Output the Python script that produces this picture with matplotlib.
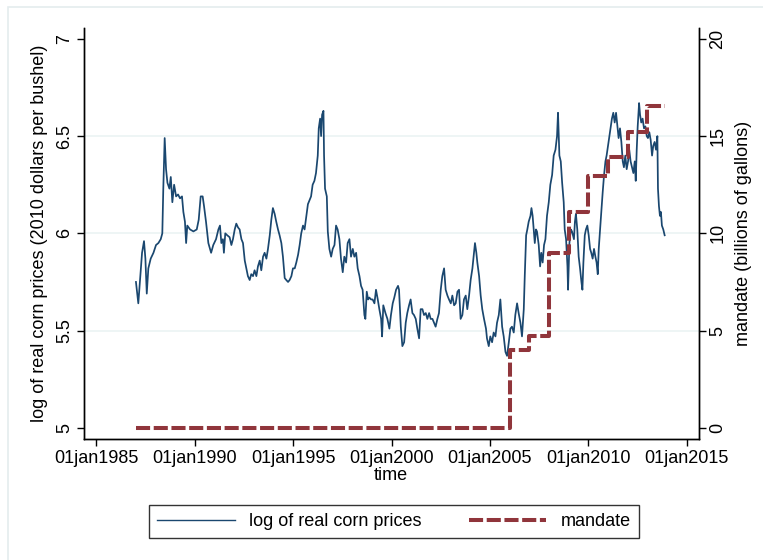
import numpy as np
import matplotlib
matplotlib.use("Agg")
import matplotlib.pyplot as plt
from matplotlib.patches import Rectangle
from matplotlib.lines import Line2D

plt.rcParams['font.family'] = ['Liberation Sans Narrow', 'Liberation Sans', 'DejaVu Sans']

# log of real corn prices (decimal year, value)
corn_t = [
    1987.01, 1987.13, 1987.22, 1987.32, 1987.42, 1987.49, 1987.56, 1987.64, 1987.76, 1987.90,
    1988.03, 1988.15, 1988.27, 1988.35, 1988.40, 1988.47, 1988.54, 1988.61, 1988.71, 1988.78,
    1988.86, 1988.95, 1989.05, 1989.15, 1989.25, 1989.35, 1989.42, 1989.50, 1989.56, 1989.62,
    1989.76, 1989.93, 1990.10, 1990.20, 1990.30, 1990.40, 1990.47, 1990.57, 1990.69, 1990.83,
    1990.94, 1991.08, 1991.20, 1991.28, 1991.35, 1991.43, 1991.48, 1991.55, 1991.65, 1991.77,
    1991.86, 1991.94, 1992.03, 1992.11, 1992.20, 1992.28, 1992.37, 1992.45, 1992.54, 1992.62,
    1992.70, 1992.79, 1992.87, 1992.96, 1993.04, 1993.13, 1993.21, 1993.30, 1993.38, 1993.47,
    1993.55, 1993.64, 1993.72, 1993.81, 1993.89, 1993.97, 1994.06, 1994.14, 1994.23, 1994.31,
    1994.40, 1994.48, 1994.57, 1994.65, 1994.74, 1994.82, 1994.91, 1994.99, 1995.08, 1995.16,
    1995.25, 1995.33, 1995.41, 1995.50, 1995.58, 1995.67, 1995.75, 1995.91, 1995.99, 1996.08,
    1996.16, 1996.25, 1996.30, 1996.37, 1996.42, 1996.47, 1996.54, 1996.57, 1996.62, 1996.71,
    1996.76, 1996.84, 1996.93, 1997.01, 1997.10, 1997.18, 1997.26, 1997.35, 1997.43, 1997.52,
    1997.60, 1997.69, 1997.77, 1997.86, 1997.94, 1998.03, 1998.11, 1998.20, 1998.28, 1998.37,
    1998.45, 1998.53, 1998.62, 1998.67, 1998.74, 1998.81, 1998.87, 1998.96, 1999.04, 1999.13,
    1999.21, 1999.30, 1999.38, 1999.47, 1999.52, 1999.58, 1999.69, 1999.79, 1999.89, 1999.97,
    2000.06, 2000.14, 2000.23, 2000.33, 2000.38, 2000.47, 2000.55, 2000.64, 2000.72, 2000.80,
    2000.89, 2000.97, 2001.06, 2001.14, 2001.23, 2001.31, 2001.40, 2001.48, 2001.57, 2001.65,
    2001.74, 2001.82, 2001.91, 2001.99, 2002.08, 2002.16, 2002.24, 2002.33, 2002.41, 2002.50,
    2002.58, 2002.67, 2002.75, 2002.84, 2002.92, 2003.01, 2003.09, 2003.18, 2003.26, 2003.35,
    2003.43, 2003.51, 2003.60, 2003.68, 2003.77, 2003.85, 2003.94, 2004.02, 2004.11, 2004.19,
    2004.24, 2004.31, 2004.36, 2004.45, 2004.53, 2004.61, 2004.70, 2004.80, 2004.85, 2004.94,
    2005.02, 2005.11, 2005.19, 2005.28, 2005.36, 2005.45, 2005.53, 2005.62, 2005.70, 2005.79,
    2005.87, 2005.96, 2006.04, 2006.12, 2006.21, 2006.29, 2006.38, 2006.46, 2006.55, 2006.63,
    2006.72, 2006.77, 2006.84, 2006.90, 2006.97, 2007.06, 2007.11, 2007.17, 2007.23, 2007.28,
    2007.34, 2007.39, 2007.48, 2007.55, 2007.61, 2007.68, 2007.75, 2007.82, 2007.90, 2007.99,
    2008.07, 2008.16, 2008.24, 2008.33, 2008.41, 2008.46, 2008.53, 2008.60, 2008.67, 2008.75,
    2008.80, 2008.87, 2008.94, 2008.97, 2009.04, 2009.11, 2009.17, 2009.27, 2009.32, 2009.37,
    2009.44, 2009.51, 2009.58, 2009.65, 2009.70, 2009.75, 2009.82, 2009.88, 2009.95, 2010.02,
    2010.09, 2010.15, 2010.22, 2010.29, 2010.36, 2010.42, 2010.48, 2010.53, 2010.59, 2010.66,
    2010.73, 2010.80, 2010.87, 2010.93, 2011.00, 2011.07, 2011.14, 2011.20, 2011.27, 2011.34,
    2011.41, 2011.48, 2011.54, 2011.61, 2011.68, 2011.75, 2011.81, 2011.88, 2011.95, 2012.02,
    2012.08, 2012.15, 2012.22, 2012.29, 2012.36, 2012.41, 2012.46, 2012.51, 2012.58, 2012.63,
    2012.69, 2012.76, 2012.83, 2012.90, 2012.97, 2013.03, 2013.10, 2013.17, 2013.24, 2013.30,
    2013.37, 2013.44, 2013.51, 2013.54, 2013.59, 2013.64, 2013.69, 2013.74, 2013.81, 2013.88,
]
corn_v = [
    5.75, 5.64, 5.76, 5.90, 5.96, 5.87, 5.69, 5.82, 5.87, 5.90,
    5.94, 5.95, 5.97, 6.00, 6.23, 6.49, 6.33, 6.26, 6.23, 6.29,
    6.16, 6.25, 6.19, 6.20, 6.18, 6.19, 6.11, 6.06, 5.95, 6.04,
    6.02, 6.01, 6.02, 6.07, 6.19, 6.19, 6.14, 6.06, 5.95, 5.90,
    5.94, 5.97, 6.02, 6.04, 5.95, 5.97, 5.90, 6.00, 5.99, 5.98,
    5.94, 5.97, 6.02, 6.05, 6.03, 6.02, 5.97, 5.95, 5.86, 5.82,
    5.78, 5.76, 5.79, 5.78, 5.81, 5.78, 5.83, 5.86, 5.81, 5.88,
    5.90, 5.87, 5.92, 5.99, 6.07, 6.13, 6.10, 6.06, 6.02, 5.99,
    5.95, 5.88, 5.77, 5.76, 5.75, 5.76, 5.78, 5.82, 5.82, 5.85,
    5.89, 5.94, 6.00, 6.04, 6.02, 6.09, 6.15, 6.19, 6.25, 6.27,
    6.31, 6.40, 6.54, 6.59, 6.50, 6.61, 6.63, 6.40, 6.23, 6.19,
    6.01, 5.92, 5.88, 5.92, 5.94, 6.04, 6.02, 5.97, 5.87, 5.80,
    5.88, 5.85, 5.95, 5.97, 5.88, 5.92, 5.88, 5.90, 5.82, 5.78,
    5.73, 5.71, 5.58, 5.56, 5.70, 5.66, 5.67, 5.66, 5.66, 5.64,
    5.71, 5.66, 5.61, 5.56, 5.47, 5.63, 5.59, 5.56, 5.51, 5.58,
    5.64, 5.67, 5.71, 5.73, 5.71, 5.52, 5.42, 5.44, 5.54, 5.59,
    5.63, 5.66, 5.59, 5.58, 5.56, 5.51, 5.46, 5.61, 5.61, 5.58,
    5.59, 5.56, 5.59, 5.56, 5.56, 5.54, 5.52, 5.56, 5.59, 5.71,
    5.78, 5.82, 5.71, 5.68, 5.66, 5.64, 5.68, 5.63, 5.64, 5.70,
    5.71, 5.56, 5.58, 5.66, 5.68, 5.61, 5.68, 5.76, 5.82, 5.90,
    5.95, 5.90, 5.85, 5.78, 5.68, 5.61, 5.56, 5.51, 5.46, 5.42,
    5.47, 5.44, 5.49, 5.47, 5.54, 5.58, 5.66, 5.52, 5.47, 5.39,
    5.37, 5.44, 5.51, 5.52, 5.49, 5.58, 5.64, 5.59, 5.54, 5.47,
    5.61, 5.78, 5.99, 6.02, 6.06, 6.09, 6.13, 6.09, 6.01, 5.95,
    6.02, 6.01, 5.94, 5.83, 5.90, 5.85, 5.94, 5.97, 6.09, 6.16,
    6.25, 6.30, 6.40, 6.43, 6.50, 6.62, 6.40, 6.37, 6.26, 6.16,
    6.02, 5.97, 5.83, 5.71, 5.95, 6.02, 6.01, 5.97, 6.06, 6.10,
    6.02, 5.88, 5.82, 5.75, 5.71, 5.85, 5.99, 6.02, 6.04, 5.99,
    5.92, 5.90, 5.87, 5.92, 5.88, 5.85, 5.79, 5.92, 6.01, 6.11,
    6.21, 6.30, 6.37, 6.40, 6.45, 6.50, 6.55, 6.59, 6.62, 6.57,
    6.62, 6.55, 6.49, 6.54, 6.47, 6.37, 6.34, 6.40, 6.33, 6.37,
    6.43, 6.37, 6.34, 6.31, 6.37, 6.27, 6.43, 6.55, 6.67, 6.61,
    6.57, 6.59, 6.54, 6.55, 6.50, 6.49, 6.52, 6.48, 6.40, 6.45,
    6.47, 6.43, 6.50, 6.23, 6.14, 6.09, 6.11, 6.04, 6.02, 5.99,
]

# biofuel mandate, billions of gallons (step starting each year)
mandate_years = [1987, 2006, 2007, 2008, 2009, 2010, 2011, 2012, 2013]
mandate_vals = [0, 4.0, 4.7, 9.0, 11.1, 12.95, 13.95, 15.2, 16.55]

xticks = [1985, 1990, 1995, 2000, 2005, 2010, 2015]
xtick_labels = ['01jan' + str(y) for y in xticks]

navy = '#1a476f'
maroon = '#90353b'
grid_col = '#eaf2f3'

fig = plt.figure(figsize=(7.63, 5.6), dpi=100)
fig.patch.set_facecolor('white')
fig.patches.append(Rectangle((8 / 763, -0.1), 1.2, 1.1 - 7 / 560, transform=fig.transFigure,
                             fill=False, edgecolor='#e4ecee', lw=1.2, zorder=0))

ax = fig.add_axes([84 / 763, 1 - 438.5 / 560, 614.5 / 763, 410.5 / 560])
ax2 = ax.twinx()

ax.set_xlim(1984.37, 2015.6)
ax.set_ylim(4.945, 7.056)
# right axis: 0..20 sits on the same gridlines as 5..7
ax2.set_ylim(-0.55, 20.56)

for v in [5.5, 6, 6.5]:
    ax.axhline(v, color=grid_col, lw=1.1, zorder=0)

ax.plot(corn_t, corn_v, color=navy, lw=1.25, zorder=3)

mx = mandate_years + [corn_t[-1]]
my = mandate_vals + [mandate_vals[-1]]
ax2.plot(mx, my, color=maroon, lw=2.9, drawstyle='steps-post',
         dashes=(3.5, 0.9), solid_capstyle='butt', dash_capstyle='butt', zorder=4)

ax.set_xticks(xticks)
ax.set_xticklabels(xtick_labels, fontsize=13)
ax.set_yticks([5, 5.5, 6, 6.5, 7])
ax.set_yticklabels(['5', '5.5', '6', '6.5', '7'], rotation=90, va='center', fontsize=13)
ax2.set_yticks([0, 5, 10, 15, 20])
ax2.set_yticklabels(['0', '5', '10', '15', '20'], rotation=90, va='center', fontsize=13)

for a in (ax, ax2):
    a.spines['top'].set_visible(False)
    for s in ('left', 'right', 'bottom'):
        a.spines[s].set_color('black')
        a.spines[s].set_linewidth(1.0)
    a.tick_params(direction='out', length=5, width=1.0, colors='black', pad=3)

ax.set_xlabel('time', fontsize=13, labelpad=0)
ax.set_ylabel('log of real corn prices (2010 dollars per bushel)', fontsize=13, labelpad=6)
ax2.set_ylabel('mandate (billions of gallons)', fontsize=13, labelpad=6)

handles = [
    Line2D([], [], color=navy, lw=1.0),
    Line2D([], [], color=maroon, lw=2.9, dashes=(3.5, 0.9)),
]
leg = fig.legend(handles, ['log of real corn prices', 'mandate'], loc='center',
                 bbox_to_anchor=(394 / 763, 1 - 521.5 / 560), ncol=2, fontsize=13,
                 frameon=True, fancybox=False, edgecolor='black', handlelength=4.3,
                 columnspacing=2.6, borderpad=0.45, handletextpad=0.8)
leg.get_frame().set_linewidth(1.0)

fig.savefig('out.png', dpi=100)
